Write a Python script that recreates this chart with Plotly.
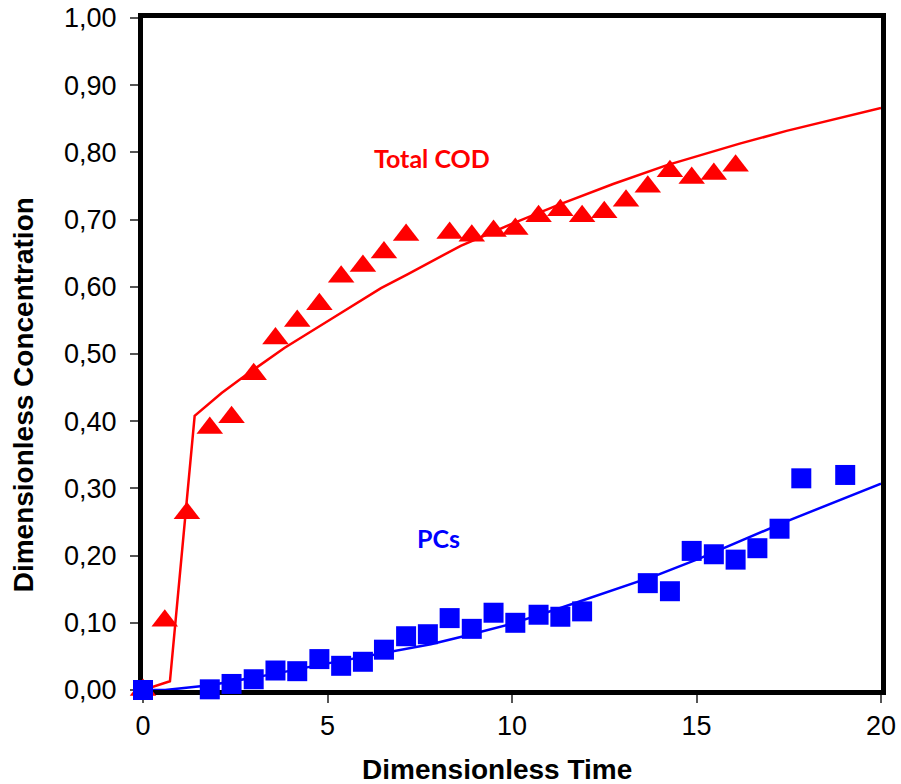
import plotly.graph_objects as go

# ---- data ----
cod_t = [0, 0.59, 1.19, 1.81, 2.40, 3.00, 3.59, 4.18, 4.78, 5.37, 5.96, 6.53, 7.13,
         8.31, 8.91, 9.50, 10.09, 10.72, 11.31, 11.90, 12.50, 13.09, 13.68, 14.28,
         14.87, 15.47, 16.06]
cod_obs = [0.0, 0.103, 0.263, 0.390, 0.406, 0.470, 0.523, 0.549, 0.574, 0.615, 0.631,
           0.651, 0.677, 0.680, 0.676, 0.683, 0.686, 0.705, 0.714, 0.705, 0.711, 0.728,
           0.749, 0.772, 0.762, 0.768, 0.780]

cod_model_t = [0, 0.73, 1.40, 2.13, 2.67, 3.83, 5.10, 6.45, 7.18, 8.61, 9.96, 11.31,
               12.74, 14.20, 16.17, 17.44, 20.0]
cod_model = [0.0, 0.013, 0.408, 0.442, 0.464, 0.509, 0.552, 0.598, 0.619, 0.661, 0.693,
             0.723, 0.753, 0.781, 0.813, 0.832, 0.866]

pcs_t = [0, 1.81, 2.40, 3.00, 3.59, 4.18, 4.78, 5.37, 5.96, 6.53, 7.13, 7.72, 8.31,
         8.91, 9.50, 10.09, 10.72, 11.31, 11.90, 13.68, 14.28, 14.87, 15.47, 16.06,
         16.65, 17.25, 17.84, 19.03]
pcs_obs = [0.0, 0.001, 0.009, 0.016, 0.029, 0.028, 0.046, 0.036, 0.042, 0.060, 0.080,
           0.083, 0.107, 0.091, 0.115, 0.100, 0.112, 0.109, 0.117, 0.159, 0.147, 0.207,
           0.202, 0.194, 0.211, 0.240, 0.315, 0.320]

pcs_model_t = [0, 0.6, 1.81, 3.56, 4.75, 6.53, 7.80, 8.69, 9.96, 11.31, 13.93, 15.09,
               17.44, 20.0]
pcs_model = [0.0, 0.0, 0.007, 0.024, 0.037, 0.055, 0.068, 0.080, 0.098, 0.122, 0.171,
             0.196, 0.251, 0.307]

y_ticks = [0.0, 0.1, 0.2, 0.3, 0.4, 0.5, 0.6, 0.7, 0.8, 0.9, 1.0]
y_ticktext = ["0,00", "0,10", "0,20", "0,30", "0,40", "0,50", "0,60", "0,70",
              "0,80", "0,90", "1,00"]
x_ticks = [0, 5, 10, 15, 20]
x_ticktext = ["0", "5", "10", "15", "20"]

RED = "#FF0000"
BLUE = "#0000FF"
FONT = "Liberation Sans, Arial"

fig = go.Figure()
fig.add_trace(go.Scatter(x=cod_t, y=cod_obs, mode="markers", cliponaxis=False,
                         marker=dict(symbol="triangle-up", size=23, color=RED,
                                     line=dict(width=0)), showlegend=False))
fig.add_trace(go.Scatter(x=cod_model_t, y=cod_model, mode="lines", cliponaxis=False,
                         line=dict(color=RED, width=2.5), showlegend=False))
fig.add_trace(go.Scatter(x=pcs_t, y=pcs_obs, mode="markers", cliponaxis=False,
                         marker=dict(symbol="square", size=20, color=BLUE,
                                     line=dict(width=0)), showlegend=False))
fig.add_trace(go.Scatter(x=pcs_model_t, y=pcs_model, mode="lines", cliponaxis=False,
                         line=dict(color=BLUE, width=2.5), showlegend=False))

fig.add_annotation(x=7.83, y=0.791, text="<b>Total COD</b>", showarrow=False,
                   font=dict(family="Lato", size=25, color=RED))
fig.add_annotation(x=8.02, y=0.226, text="<b>PCs</b>", showarrow=False,
                   font=dict(family="Lato", size=25, color=BLUE))

# axis titles (placed as paper annotations, as in the original they are off-centre)
fig.add_annotation(xref="paper", yref="paper", x=0.480, y=-0.1176,
                   xanchor="center", yanchor="middle", showarrow=False,
                   text="<b>Dimensionless Time</b>",
                   font=dict(family=FONT, size=28, color="black"))
fig.add_annotation(xref="paper", yref="paper", x=-0.1615, y=0.4397,
                   xanchor="center", yanchor="middle", showarrow=False, textangle=-90,
                   text="<b>Dimensionless Concentration</b>",
                   font=dict(family=FONT, size=28, color="black"))

axis_common = dict(showline=True, linecolor="black", linewidth=5, mirror=True,
                   showgrid=False, zeroline=False, ticks="outside", ticklen=8,
                   tickwidth=1.5, tickcolor="#555555", layer="below traces",
                   automargin=False,
                   tickfont=dict(family=FONT, size=27, color="black"))

fig.update_xaxes(range=[0, 20], tickvals=x_ticks, ticktext=x_ticktext,
                 **axis_common)
fig.update_yaxes(range=[0, 1], tickvals=y_ticks, ticktext=y_ticktext,
                 ticklabelstandoff=8, **axis_common)

fig.update_layout(width=901, height=784, autosize=False,
                  margin=dict(l=143, r=20, t=18, b=94, pad=0),
                  plot_bgcolor="white", paper_bgcolor="white")

fig.write_html("out.html")
